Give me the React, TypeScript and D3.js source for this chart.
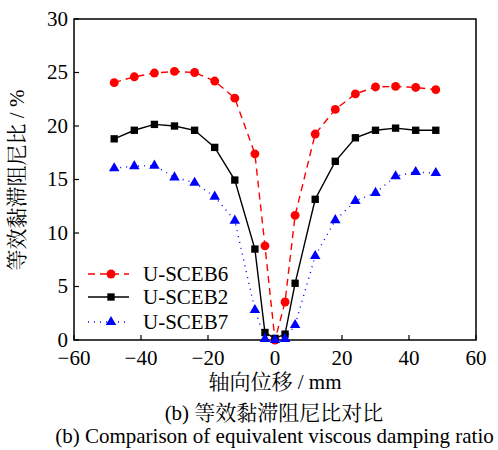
import React, { useEffect, useRef } from "react";
import * as d3 from "d3";

const xs = [-48, -42, -36, -30, -24, -18, -12, -6, -3, 0, 3, 6, 12, 18, 24, 30, 36, 42, 48];
const sceb6 = [24.05, 24.6, 24.95, 25.1, 25.0, 24.2, 22.6, 17.4, 8.8, 0.0, 3.55, 11.65, 19.25, 21.55, 23.0, 23.65, 23.7, 23.6, 23.4];
const sceb2 = [18.8, 19.6, 20.15, 20.0, 19.6, 18.0, 14.95, 8.5, 0.7, 0.15, 0.55, 5.3, 13.15, 16.7, 18.9, 19.6, 19.8, 19.6, 19.6];
const sceb7 = [16.05, 16.25, 16.3, 15.2, 14.7, 13.4, 11.15, 2.8, 0.1, 0.0, 0.1, 1.4, 7.85, 11.2, 13.0, 13.75, 15.3, 15.7, 15.6];
const xTicks = [-60, -40, -20, 0, 20, 40, 60];
const yTicks = [0, 5, 10, 15, 20, 25, 30];
const seriesNames = ["U-SCEB6", "U-SCEB2", "U-SCEB7"];

const FONT = "'Liberation Serif', 'Times New Roman', 'Noto Serif CJK SC', 'Noto Sans CJK SC', serif";
const FS = 21;

export default function App() {
  const ref = useRef<SVGSVGElement>(null);
  useEffect(() => {
    const svg = d3.select(ref.current);
    svg.selectAll("*").remove();
    const left = 74, right = 476, top = 19, bottom = 340;
    const x = d3.scaleLinear().domain([-60, 60]).range([left, right]);
    const y = d3.scaleLinear().domain([0, 30]).range([bottom, top]);

    svg.append("rect").attr("x", left).attr("y", top).attr("width", right - left).attr("height", bottom - top)
      .attr("fill", "none").attr("stroke", "#000").attr("stroke-width", 1.5);

    xTicks.forEach(t => {
      svg.append("line").attr("x1", x(t)).attr("x2", x(t)).attr("y1", bottom).attr("y2", bottom - 5).attr("stroke", "#000").attr("stroke-width", 1.2);
      svg.append("text").attr("x", x(t)).attr("y", 365).attr("text-anchor", "middle")
        .attr("font-family", FONT).attr("font-size", FS).text(t < 0 ? "\u2212" + Math.abs(t) : String(t));
    });
    yTicks.forEach(t => {
      svg.append("line").attr("x1", left).attr("x2", left + 5).attr("y1", y(t)).attr("y2", y(t)).attr("stroke", "#000").attr("stroke-width", 1.2);
      svg.append("text").attr("x", 68).attr("y", y(t)).attr("dy", "0.33em").attr("text-anchor", "end")
        .attr("font-family", FONT).attr("font-size", FS).text(String(t));
    });

    const series = [
      { data: sceb6, color: "#ff0000", dash: "7,5", marker: "circle" },
      { data: sceb2, color: "#000000", dash: "none", marker: "square" },
      { data: sceb7, color: "#0000ff", dash: "1,5", marker: "triangle" },
    ];
    const line = d3.line<number>().x((_, i) => x(xs[i])).y(d => y(d));
    const symType: Record<string, d3.SymbolType> = { circle: d3.symbolCircle, square: d3.symbolSquare, triangle: d3.symbolTriangle };
    const symSize: Record<string, number> = { circle: 62, square: 54, triangle: 48 };

    series.forEach(s => {
      svg.append("path").attr("d", line(s.data)).attr("fill", "none").attr("stroke", s.color)
        .attr("stroke-width", 1.4).attr("stroke-dasharray", s.dash);
    });
    series.forEach(s => {
      const sym = d3.symbol().type(symType[s.marker]).size(symSize[s.marker]);
      s.data.forEach((v, i) => {
        svg.append("path").attr("d", sym()).attr("transform", `translate(${x(xs[i])},${y(v)})`).attr("fill", s.color);
      });
    });

    const legendY = [274, 297, 322];
    series.forEach((s, i) => {
      const ly = legendY[i];
      svg.append("line").attr("x1", 88).attr("x2", 129).attr("y1", ly).attr("y2", ly)
        .attr("stroke", s.color).attr("stroke-width", 1.4).attr("stroke-dasharray", s.dash);
      const sym = d3.symbol().type(symType[s.marker]).size(symSize[s.marker]);
      svg.append("path").attr("d", sym()).attr("transform", `translate(111,${ly})`).attr("fill", s.color);
      svg.append("text").attr("x", 143).attr("y", ly).attr("dy", "0.35em").attr("font-family", FONT)
        .attr("font-size", FS).text(seriesNames[i]);
    });

    svg.append("text").attr("x", 275).attr("y", 389).attr("text-anchor", "middle").attr("font-family", FONT)
      .attr("font-size", FS).text("轴向位移 / mm");
    svg.append("text").attr("transform", `translate(24,180) rotate(-90)`).attr("text-anchor", "middle")
      .attr("font-family", FONT).attr("font-size", FS).text("等效黏滞阻尼比 / %");
    svg.append("text").attr("x", 274).attr("y", 420).attr("text-anchor", "middle").attr("font-family", FONT)
      .attr("font-size", FS).text("(b) 等效黏滞阻尼比对比");
    svg.append("text").attr("x", 274.5).attr("y", 443).attr("text-anchor", "middle").attr("font-family", FONT)
      .attr("font-size", FS).text("(b) Comparison of equivalent viscous damping ratio");
  }, []);
  return (
    <svg ref={ref} width={498} height={450} style={{ position: "absolute", left: 0, top: 0, background: "#fff" }} />
  );
}
